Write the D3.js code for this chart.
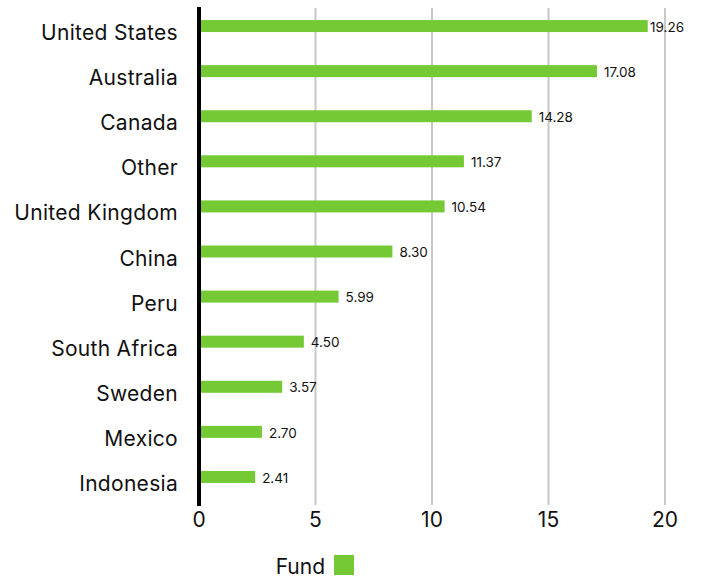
<!DOCTYPE html>
<html>
<head>
<meta charset="utf-8">
<script src="https://cdn.jsdelivr.net/npm/d3@7"></script>
<style>
  body { margin: 0; background: #fff; }
  text { font-family: Inter, "Open Sans", sans-serif; fill: #111; }
</style>
</head>
<body>
<div id="chart"></div>
<script>
var countries = ['United States', 'Australia', 'Canada', 'Other', 'United Kingdom', 'China',
  'Peru', 'South Africa', 'Sweden', 'Mexico', 'Indonesia'];
var fund = [19.26, 17.08, 14.28, 11.37, 10.54, 8.30, 5.99, 4.50, 3.57, 2.70, 2.41];
var ticks = [0, 5, 10, 15, 20];

var chart_width = 702;
var chart_height = 581;
var green = '#74c935';

var svg = d3.select('#chart')
  .append('svg')
  .attr('width', chart_width)
  .attr('height', chart_height);

// scales
var x_scale = d3.scaleLinear()
  .domain([0, 20])
  .range([199, 665]);

var y_scale = d3.scalePoint()
  .domain(countries)
  .range([3.5, 499.5])
  .padding(0.5);

// gridlines
svg.append('g')
  .selectAll('line')
  .data(ticks.slice(1))
  .enter()
  .append('line')
  .attr('x1', function(d) { return x_scale(d); })
  .attr('x2', function(d) { return x_scale(d); })
  .attr('y1', 8)
  .attr('y2', 505)
  .attr('stroke', '#c8c8c8')
  .attr('stroke-width', 2);

// tick labels
svg.append('g')
  .selectAll('text')
  .data(ticks)
  .enter()
  .append('text')
  .attr('x', function(d) { return x_scale(d); })
  .attr('y', 527)
  .attr('text-anchor', 'middle')
  .style('font-size', '21px')
  .text(function(d) { return d; });

// bars
svg.append('g')
  .selectAll('rect')
  .data(fund)
  .enter()
  .append('rect')
  .attr('x', x_scale(0))
  .attr('y', function(d, i) { return y_scale(countries[i]) - 6; })
  .attr('width', function(d) { return x_scale(d) - x_scale(0); })
  .attr('height', 12)
  .attr('fill', green);

// value labels (kept inside the right edge)
svg.append('g')
  .selectAll('text')
  .data(fund)
  .enter()
  .append('text')
  .attr('x', function(d) { return Math.min(x_scale(d) + 7, chart_width - 52); })
  .attr('y', function(d, i) { return y_scale(countries[i]) + 1; })
  .attr('dy', '0.35em')
  .style('font-size', '13.5px')
  .text(function(d) { return d.toFixed(2); });

// category labels
svg.append('g')
  .selectAll('text')
  .data(countries)
  .enter()
  .append('text')
  .attr('x', 178)
  .attr('y', function(d) { return y_scale(d) + 14; })
  .attr('text-anchor', 'end')
  .style('font-size', '21px')
  .style('letter-spacing', '0.3px')
  .text(function(d) { return d; });

// zero axis line
svg.append('line')
  .attr('x1', x_scale(0))
  .attr('x2', x_scale(0))
  .attr('y1', 7)
  .attr('y2', 506)
  .attr('stroke', '#000')
  .attr('stroke-width', 4);

// legend
var legend = svg.append('g');
legend.append('text')
  .attr('x', 325)
  .attr('y', 574)
  .attr('text-anchor', 'end')
  .style('font-size', '21px')
  .text('Fund');
legend.append('rect')
  .attr('x', 334)
  .attr('y', 555)
  .attr('width', 20)
  .attr('height', 20)
  .attr('fill', green);
</script>
</body>
</html>
